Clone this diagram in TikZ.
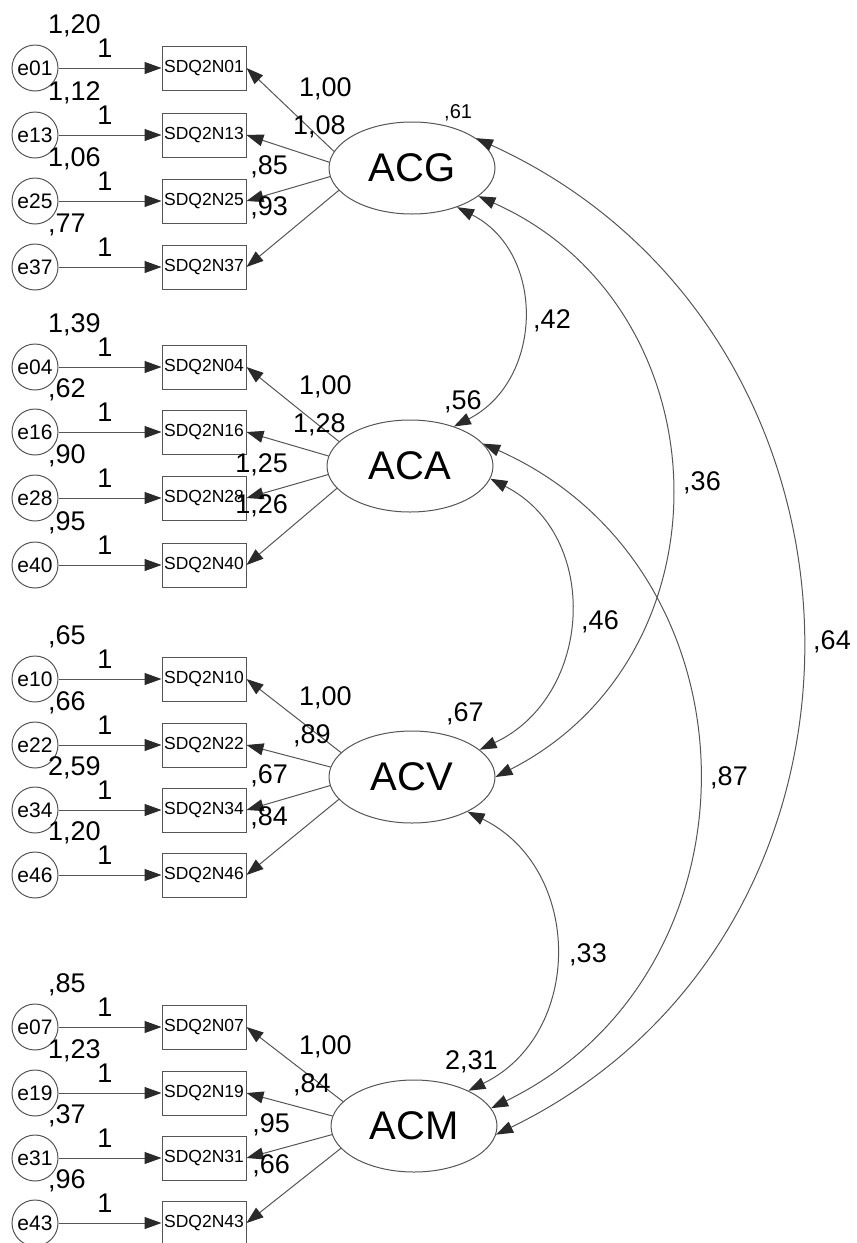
\documentclass[tikz,border=0pt]{standalone}
\usepackage{fontspec}
\setmainfont{Liberation Sans}
\usetikzlibrary{arrows.meta,shapes.geometric}
\definecolor{linegray}{HTML}{555555}
\definecolor{tipgray}{HTML}{2A2A2A}
\begin{document}
\begin{tikzpicture}[x=1pt,y=1pt,
  errc/.style={circle, draw=linegray, line width=1pt, minimum size=46pt, inner sep=0pt, font=\fontsize{21}{21}\selectfont},
  obs/.style={rectangle, draw=linegray, line width=1pt, minimum width=84pt, minimum height=44pt, inner sep=0pt, font=\fontsize{17.5}{17.5}\selectfont},
  lat/.style={ellipse, draw=linegray, line width=1pt, minimum width=166pt, minimum height=92pt, inner sep=0pt, font=\fontsize{40}{40}\selectfont},
  num/.style={inner sep=0pt, font=\fontsize{27}{27}\selectfont},
  small/.style={inner sep=0pt, font=\fontsize{20}{20}\selectfont},
  path/.style={draw=linegray, line width=1pt, -{Triangle[length=17pt,width=12pt,color=tipgray]}},
  cov/.style={draw=linegray, line width=1pt, {Triangle[length=17pt,width=12pt,color=tipgray]}-{Triangle[length=17pt,width=12pt,color=tipgray]}}
]
\useasboundingbox (0,0) rectangle (857,-1243);

% observed indicators and their errors
\foreach \n/\y/\v in {01/68/{1,20},13/135/{1,12},25/201/{1,06},37/267/{,77},
                      04/367/{1,39},16/432/{,62},28/498/{,90},40/565/{,95},
                      10/679/{,65},22/745/{,66},34/810/{2,59},46/875/{1,20},
                      07/1027/{,85},19/1093/{1,23},31/1158/{,37},43/1223/{,96}}{
  \node[errc] (e\n) at (35,-\y) {e\n};
  \node[obs] (s\n) at (204,-\y) {SDQ2N\n};
  \node[num, anchor=west] (v\n) at (48,-\y+42) {\v};
  \node[num] (w\n) at (105,-\y+20) {1};
  \draw[path] (e\n) -- (s\n);
}

% latent factors
\node[lat] (ACG) at (412,-168) {ACG};
\node[lat] (ACA) at (410,-466) {ACA};
\node[lat] (ACV) at (412,-777) {ACV};
\node[lat] (ACM) at (414,-1126) {ACM};

% loadings
\draw[path] (ACG.168) -- (s01.east);
\draw[path] (ACG.176) -- (s13.east);
\draw[path] (ACG.186) -- (s25.east);
\draw[path] (ACG.197) -- (s37.east);
\draw[path] (ACA.161) -- (s04.east);
\draw[path] (ACA.173) -- (s16.east);
\draw[path] (ACA.186) -- (s28.east);
\draw[path] (ACA.197) -- (s40.east);
\draw[path] (ACV.161) -- (s10.east);
\draw[path] (ACV.173) -- (s22.east);
\draw[path] (ACV.186) -- (s34.east);
\draw[path] (ACV.197) -- (s46.east);
\draw[path] (ACM.161) -- (s07.east);
\draw[path] (ACM.173) -- (s19.east);
\draw[path] (ACM.186) -- (s31.east);
\draw[path] (ACM.197) -- (s43.east);

% loading labels
\node[num, anchor=west] (lg1) at (299,-89) {1,00};
\node[num, anchor=west] (lg2) at (293,-127) {1,08};
\node[num, anchor=east] (lg3) at (288,-167) {,85};
\node[num, anchor=east] (lg4) at (288,-208) {,93};
\node[num, anchor=west] (la1) at (299,-387) {1,00};
\node[num, anchor=west] (la2) at (293,-425) {1,28};
\node[num, anchor=east] (la3) at (288,-465) {1,25};
\node[num, anchor=east] (la4) at (288,-506) {1,26};
\node[num, anchor=west] (lv1) at (299,-698) {1,00};
\node[num, anchor=west] (lv2) at (293,-736) {,89};
\node[num, anchor=east] (lv3) at (288,-776) {,67};
\node[num, anchor=east] (lv4) at (288,-818) {,84};
\node[num, anchor=west] (lm1) at (299,-1047) {1,00};
\node[num, anchor=west] (lm2) at (293,-1085) {,84};
\node[num, anchor=east] (lm3) at (290,-1125) {,95};
\node[num, anchor=east] (lm4) at (290,-1166) {,66};

% factor variances
\node[small, anchor=west] (vg) at (444,-113) {,61};
\node[num, anchor=west] (va) at (444,-402) {,56};
\node[num, anchor=west] (vv) at (446,-714) {,67};
\node[num, anchor=west] (vm) at (445,-1062) {2,31};

% covariances
\draw[cov] (ACG.-41) to[out=-27,in=27,looseness=1.17] (ACA.42);
\draw[cov] (ACG.-23) to[out=-24,in=27,looseness=1.19] (ACV.0);
\draw[cov] (ACG.25) to[out=-24.5,in=26,looseness=1.19] (ACM.-6.5);
\draw[cov] (ACA.-9.5) to[out=-27,in=25,looseness=1.18] (ACV.22);
\draw[cov] (ACA.17) to[out=-24,in=26,looseness=1.19] (ACM.13);
\draw[cov] (ACV.-32.5) to[out=-26,in=26,looseness=1.18] (ACM.33);

\node[num] (c42) at (552,-321) {,42};
\node[num] (c36) at (702,-483) {,36};
\node[num] (c64) at (832,-642) {,64};
\node[num] (c46) at (600,-622) {,46};
\node[num] (c87) at (729,-778) {,87};
\node[num] (c33) at (588,-955) {,33};
\end{tikzpicture}
\end{document}
